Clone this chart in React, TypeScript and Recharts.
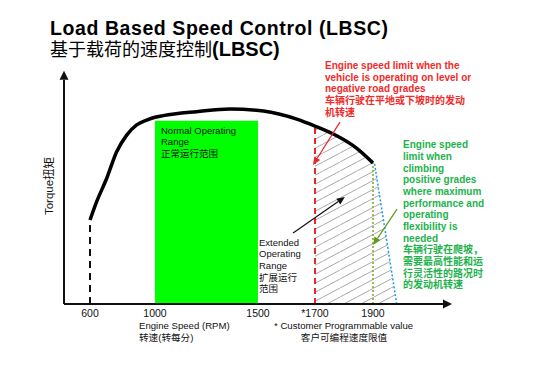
import React from 'react';
import { ComposedChart, Line, Area, XAxis, YAxis, ReferenceLine, ReferenceArea } from 'recharts';

// the figure's rpm axis is schematic (not to scale): break points of the drawn axis
const axisRpm = [400, 600, 1000, 1500, 1700, 1900, 2300];
const axisPos = [0, 26, 91, 194, 251, 309, 388];

const rpmTicks = [600, 1000, 1500, 1700, 1900];
const tickLabels = ['600', '1000', '1500', '*1700', '1900'];

// torque curve (relative torque, 0-100)
const curveRpm = [600, 641, 703, 764, 826, 887, 949, 1000, 1040, 1202, 1364, 1519, 1636, 1700, 1775, 1844, 1900];
const curveTorque = [36.2, 44.1, 54.2, 65.6, 72.8, 77.2, 79.3, 80.5, 81.2, 82.9, 84.1, 83.2, 79.7, 76.7, 72.5, 67.1, 60.8];

const normalRange = [1000, 1500];
const normalTop = 79;

// extended operating range (hatched)
const hatchRpm = [1700, 1775, 1844, 1900, 1908, 2020];
const hatchTorque = [76.7, 72.5, 67.1, 60.8, 60.4, 0];

const idleRpm = 600;
const idleTop = 35.3;
const levelLimitRpm = 1700;
const levelLimitTop = 76.4;
const gradeLimitRpm = 1900;
const gradeLimitTop = 60.8;
const dropRpm = [1908, 2020];
const dropTorque = [60.4, 0];

// annotation arrows: [fromRpm, fromTorque, toRpm, toTorque]
const redArrow = [1786, 78.4, 1693, 59.9];
const blackArrow = [1623, 30.6, 1803, 46.1];
const greenArrow = [2022, 40.9, 1900, 25.4];

const warp = (rpm: number) => {
  for (let i = 1; i < axisRpm.length; i++) {
    if (rpm <= axisRpm[i] || i === axisRpm.length - 1) {
      const t = (rpm - axisRpm[i - 1]) / (axisRpm[i] - axisRpm[i - 1]);
      return axisPos[i - 1] + t * (axisPos[i] - axisPos[i - 1]);
    }
  }
  return 0;
};

const curveData = curveRpm.map((r, i) => ({ x: warp(r), torque: curveTorque[i] }));
const hatchData = hatchRpm.map((r, i) => ({ x: warp(r), torque: hatchTorque[i] }));

const SANS = '"Liberation Sans", Arial, "Noto Sans CJK SC", sans-serif';

const arrowShape = (color: string, width: number, h = 8, w = 3.5) => (p: any) => {
  const { x1, y1, x2, y2 } = p;
  const dx = x2 - x1;
  const dy = y2 - y1;
  const len = Math.hypot(dx, dy) || 1;
  const ux = dx / len;
  const uy = dy / len;
  const bx = x2 - ux * h;
  const by = y2 - uy * h;
  return (
    <g>
      <line x1={x1} y1={y1} x2={bx} y2={by} stroke={color} strokeWidth={width} />
      <polygon points={`${x2},${y2} ${bx - uy * w},${by + ux * w} ${bx + uy * w},${by - ux * w}`} fill={color} />
    </g>
  );
};

const RpmTick = (props: any) => {
  const { x, y, payload } = props;
  const i = rpmTicks.findIndex((r) => Math.abs(warp(r) - payload.value) < 1e-6);
  return (
    <text x={x} y={y + 4.5} textAnchor="middle" fontSize={10.5} fontFamily={SANS} fill="#111">
      {tickLabels[i]}
    </text>
  );
};

const Lines = ({ x, y, lh, lines, ...rest }: any) => (
  <text x={x} y={y} fontFamily={SANS} {...rest}>
    {lines.map((l: string, i: number) => (
      <tspan key={i} x={x} y={y + i * lh}>{l}</tspan>
    ))}
  </text>
);

export default function App() {
  const seg = (r1: number, t1: number, r2: number, t2: number) => [
    { x: warp(r1), y: t1 },
    { x: warp(r2), y: t2 },
  ];

  return (
    <div style={{ position: 'absolute', left: 0, top: 0, width: 550, height: 367, background: '#fff' }}>
      <svg width={0} height={0} style={{ position: 'absolute' }}>
        <defs>
          <pattern id="hatch" patternUnits="userSpaceOnUse" width={17} height={9}>
            <line x1={0} y1={9} x2={17} y2={0} stroke="#a8a8a8" strokeWidth={1} />
          </pattern>
        </defs>
      </svg>
      <ComposedChart width={550} height={367} margin={{ top: 72, right: 98, bottom: 33, left: 64 }}>
        <XAxis
          type="number"
          dataKey="x"
          domain={[0, 388]}
          allowDataOverflow
          ticks={rpmTicks.map(warp)}
          interval={0}
          axisLine={false}
          tickLine={false}
          tick={<RpmTick />}
          height={30}
        />
        <YAxis type="number" dataKey="torque" domain={[0, 100]} allowDataOverflow hide />
        <ReferenceArea
          x1={warp(normalRange[0])}
          x2={warp(normalRange[1])}
          y1={0}
          y2={normalTop}
          fill="#00ff00"
          fillOpacity={1}
          stroke="none"
          ifOverflow="visible"
        />
        <Area
          data={hatchData}
          dataKey="torque"
          type="linear"
          fill="url(#hatch)"
          fillOpacity={1}
          stroke="none"
          isAnimationActive={false}
        />
        <ReferenceLine segment={seg(idleRpm, 0, idleRpm, idleTop)} stroke="#111" strokeWidth={2} strokeDasharray="7 5" ifOverflow="visible" />
        <ReferenceLine segment={seg(levelLimitRpm, 0, levelLimitRpm, levelLimitTop)} stroke="#e8262b" strokeWidth={2} strokeDasharray="6 4" ifOverflow="visible" />
        <ReferenceLine segment={seg(gradeLimitRpm, 0, gradeLimitRpm, gradeLimitTop)} stroke="#7da81c" strokeWidth={1.5} strokeDasharray="2 2" ifOverflow="visible" />
        <ReferenceLine segment={seg(dropRpm[0], dropTorque[0], dropRpm[1], dropTorque[1])} stroke="#1a9be0" strokeWidth={1.5} strokeDasharray="2 2" ifOverflow="visible" />
        <Line
          data={curveData}
          dataKey="torque"
          type="monotone"
          stroke="#000"
          strokeWidth={3.5}
          dot={false}
          activeDot={false}
          isAnimationActive={false}
        />
        <ReferenceLine segment={seg(redArrow[0], redArrow[1], redArrow[2], redArrow[3])} shape={arrowShape('#e8262b', 1.2)} ifOverflow="visible" />
        <ReferenceLine segment={seg(blackArrow[0], blackArrow[1], blackArrow[2], blackArrow[3])} shape={arrowShape('#111', 1.2)} ifOverflow="visible" />
        <ReferenceLine segment={seg(greenArrow[0], greenArrow[1], greenArrow[2], greenArrow[3])} shape={arrowShape('#5e9a1e', 1.2)} ifOverflow="visible" />
        {/* axes with arrow heads */}
        <ReferenceLine segment={seg(400, 0, 400, 100.5)} shape={arrowShape('#111', 2, 9, 4.5)} ifOverflow="visible" />
        <ReferenceLine segment={seg(400, 0, 2300, 0)} shape={arrowShape('#111', 2, 9, 4.5)} ifOverflow="visible" />
      </ComposedChart>

      <svg width={550} height={367} style={{ position: 'absolute', left: 0, top: 0, pointerEvents: 'none' }}>
        <text x={50} y={34.5} fontFamily={SANS} fontWeight="bold" fontSize={19.5} textLength={338} lengthAdjust="spacing" fill="#000">
          Load Based Speed Control (LBSC)
        </text>
        <text x={50} y={56} fontFamily={SANS} fontSize={18} fill="#000">
          基于载荷的速度控制<tspan fontWeight="bold" fontSize={20}>(LBSC)</tspan>
        </text>

        <text x={53} y={186} transform="rotate(-90 53 186)" textAnchor="middle" fontFamily={SANS} fontSize={11.5} fill="#111">
          Torque扭矩
        </text>

        <Lines
          x={325}
          y={69}
          lh={11.7}
          fontSize={10}
          fontWeight="bold"
          fill="#f22a2a"
          lines={['Engine speed  limit  when the', 'vehicle is operating on level  or', 'negative road  grades', '车辆行驶在平地或下坡时的发动', '机转速']}
        />
        <Lines
          x={403}
          y={148.3}
          lh={11.67}
          fontSize={10}
          fontWeight="bold"
          fill="#22b24c"
          lines={[
            'Engine speed',
            'limit  when',
            'climbing',
            'positive grades',
            'where maximum',
            'performance and',
            'operating',
            'flexibility  is',
            'needed',
            '车辆行驶在爬坡，',
            '需要最高性能和运',
            '行灵活性的路况时',
            '的发动机转速',
          ]}
        />
        <Lines x={161} y={134} lh={11.4} fontSize={9.5} fill="#111" lines={['Normal Operating', 'Range', '正常运行范围']} />
        <Lines x={259} y={245.5} lh={11.7} fontSize={9.5} fill="#111" lines={['Extended', 'Operating', 'Range', '扩展运行', '范围']} />

        <Lines x={139} y={328.5} lh={12.2} fontSize={9.6} fill="#111" lines={['Engine Speed (RPM)', '转速(转每分)']} />
        <text x={274} y={328.5} fontFamily={SANS} fontSize={9.6} fill="#111">* Customer Programmable value</text>
        <text x={344} y={340.7} textAnchor="middle" fontFamily={SANS} fontSize={9.6} fill="#111">客户可编程速度限值</text>
      </svg>
    </div>
  );
}
